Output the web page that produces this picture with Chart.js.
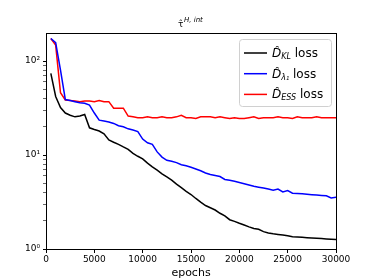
<!DOCTYPE html>
<html lang="en">
<head>
    <meta charset="UTF-8">
    <title>loss</title>
    <style>
        html, body { margin: 0; padding: 0; background: #fff; }
        #wrap { width: 374px; height: 280px; }
    </style>
</head>
<body>
    <div id="wrap"><canvas id="lossChart" width="374" height="280"></canvas></div>
    <script src="https://cdn.jsdelivr.net/npm/chart.js"></script>
    <script>

        // epochs, every 500
        const epochs = [];
        for (let e = 500; e <= 30000; e += 500) epochs.push(e)

        const klLoss = [74, 42, 32, 28, 26.5, 25.5, 26, 27, 19.5, 18.7,
            18, 16.8, 14.5, 13.7, 13, 12.2, 11.5, 10.4, 9.7, 9.1,
            8.2, 7.5, 6.9, 6.3, 5.85, 5.4, 4.9, 4.5, 4.1, 3.8,
            3.45, 3.15, 2.9, 2.75, 2.6, 2.4, 2.25, 2.05, 1.97, 1.88,
            1.8, 1.72, 1.65, 1.62, 1.53, 1.48, 1.45, 1.43, 1.41, 1.38,
            1.35, 1.34, 1.33, 1.32, 1.31, 1.3, 1.29, 1.28, 1.27, 1.26]

        const lambdaLoss = [174, 157, 80, 39, 38, 37, 36, 35.5, 34, 28,
            23.5, 23, 22.5, 21.7, 20.5, 20, 19, 18.5, 17.8, 14.8,
            13.5, 13, 10.8, 9.5, 8.8, 8.6, 8.3, 7.9, 7.7, 7.4,
            7.1, 6.8, 6.45, 6.2, 6.05, 5.9, 5.5, 5.4, 5.25, 5.1,
            4.95, 4.8, 4.65, 4.55, 4.45, 4.35, 4.22, 4.35, 4.05, 4.18,
            3.92, 3.9, 3.87, 3.82, 3.78, 3.75, 3.72, 3.68, 3.5, 3.55]

        const essLoss = [174, 148, 46, 38.5, 38, 37.5, 37, 37.5, 37.5, 37,
            38, 37, 37, 31.5, 31.5, 31.5, 26, 25.5, 25, 25,
            25.5, 25, 25, 25.5, 25, 25, 25.5, 26.5, 25, 25,
            24.5, 25.5, 25.5, 25.5, 25, 25.5, 25, 24.5, 25, 24.5,
            24.5, 25, 25.5, 24.5, 25, 25, 25, 25.5, 25, 25,
            24.5, 25.5, 25, 25, 25, 25.5, 25, 25, 25, 25]

        const xTicks = [0, 5000, 10000, 15000, 20000, 25000, 30000]
        const sup = { 0: '\u2070', 1: '\u00b9', 2: '\u00b2' }

        function toPoints(values) {
            return values.map((v, i) => ({ x: epochs[i], y: v }))
        }

        const FONT = "'DejaVu Sans', sans-serif"

        // frame, title and legend like the matplotlib figure
        const decor = {
            id: 'decor',
            afterDraw(chart) {
                const ctx = chart.ctx
                const a = chart.chartArea
                ctx.save()
                ctx.strokeStyle = '#000'
                ctx.lineWidth = 1
                ctx.strokeRect(Math.round(a.left) + 0.5, Math.round(a.top) + 0.5,
                    Math.round(a.right - a.left), Math.round(a.bottom - a.top))

                // title
                ctx.fillStyle = '#000'
                ctx.textBaseline = 'alphabetic'
                ctx.font = '9px ' + FONT
                ctx.fillText('\u03c4\u0302', 178, 27)
                ctx.font = 'italic 7px ' + FONT
                ctx.fillText('H, int', 184, 22)

                // legend box
                const bx = 239.5, by = 39.5, bw = 92, bh = 67
                ctx.fillStyle = 'rgba(255,255,255,0.8)'
                ctx.strokeStyle = '#d0d0d0'
                ctx.beginPath()
                ctx.roundRect(bx, by, bw, bh, 3)
                ctx.fill()
                ctx.stroke()

                const items = [
                    { color: '#000', sub: 'KL' },
                    { color: '#0000ff', sub: '\u03bb\u2081' },
                    { color: '#ff0000', sub: 'ESS' }
                ]
                items.forEach((it, i) => {
                    const y = 53 + i * 20.7
                    ctx.strokeStyle = it.color
                    ctx.lineWidth = 1.5
                    ctx.beginPath()
                    ctx.moveTo(244, y)
                    ctx.lineTo(267, y)
                    ctx.stroke()
                    ctx.fillStyle = '#000'
                    let x = 272
                    ctx.font = 'italic 12px ' + FONT
                    ctx.fillText('D\u0302', x, y + 4)
                    x += ctx.measureText('D').width
                    ctx.font = 'italic 8px ' + FONT
                    ctx.fillText(it.sub, x, y + 6)
                    x += ctx.measureText(it.sub).width
                    ctx.font = '12px ' + FONT
                    ctx.fillText(' loss', x, y + 4)
                })
                ctx.restore()
            }
        }

        const lossChart = new Chart(document.getElementById('lossChart'), {
            type: 'line',
            data: {
                datasets: [
                    { label: 'KL', data: toPoints(klLoss), borderColor: '#000000' },
                    { label: 'lambda1', data: toPoints(lambdaLoss), borderColor: '#0000ff' },
                    { label: 'ESS', data: toPoints(essLoss), borderColor: '#ff0000' }
                ]
            },
            options: {
                responsive: false,
                animation: false,
                layout: { padding: { top: 33, right: 38, left: 0, bottom: 0 } },
                elements: {
                    point: { radius: 0 },
                    line: { borderWidth: 1.5, tension: 0 }
                },
                plugins: {
                    legend: { display: false },
                    title: { display: false },
                    tooltip: { enabled: false }
                },
                scales: {
                    x: {
                        type: 'linear',
                        min: 0,
                        max: 30000,
                        afterBuildTicks: s => { s.ticks = xTicks.map(v => ({ value: v })) },
                        afterFit: s => { s.height = 31 },
                        grid: { drawOnChartArea: false, tickLength: 4, color: '#000' },
                        border: { display: false },
                        ticks: { color: '#000', font: { family: FONT, size: 9 }, padding: 1, maxRotation: 0,
                            callback: v => String(v) },
                        title: { display: true, text: 'epochs', color: '#000', padding: 0,
                            font: { family: FONT, size: 11 } }
                    },
                    y: {
                        type: 'logarithmic',
                        min: 1,
                        max: 199,
                        afterBuildTicks: s => {
                            const t = []
                            for (let d = 1; d <= 100; d *= 10) {
                                for (let m = 1; m <= 9; m++) {
                                    if (m * d <= 199) t.push({ value: m * d, major: m === 1 })
                                }
                            }
                            s.ticks = t
                        },
                        afterFit: s => { s.width = 46 },
                        grid: { drawOnChartArea: false, tickLength: 3, color: '#000',
                            tickWidth: c => (c.tick && c.tick.major ? 1 : 0.6) },
                        border: { display: false },
                        ticks: { color: '#000', font: { family: FONT, size: 9 }, padding: 3, autoSkip: false,
                            callback: v => {
                                const p = Math.log10(v)
                                return Math.abs(p - Math.round(p)) < 1e-9 ? '10' + sup[Math.round(p)] : ''
                            } }
                    }
                }
            },
            plugins: [decor]
        })

    </script>
</body>
</html>
